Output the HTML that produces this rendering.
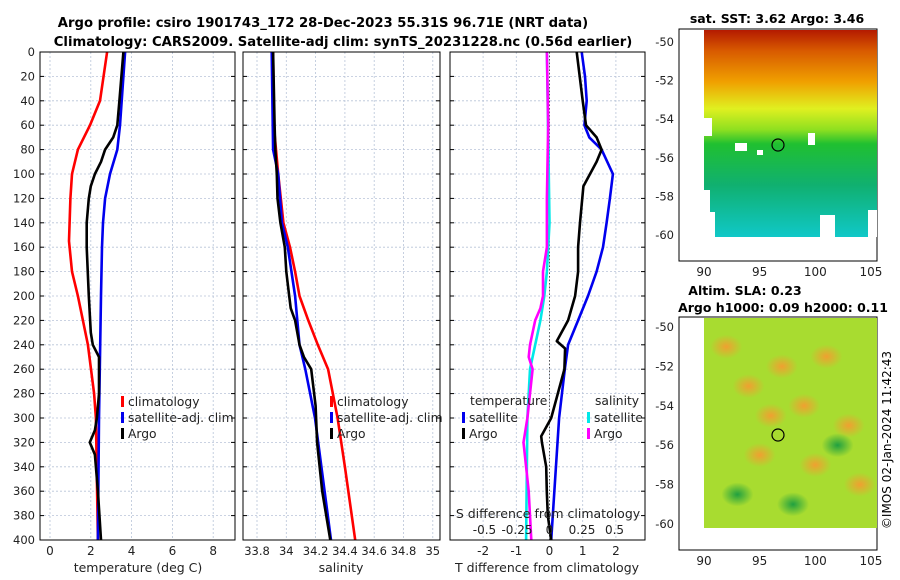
<!DOCTYPE html>
<html><head><meta charset="utf-8"><style>
body{margin:0;background:#fff}
svg{display:block;font-family:"DejaVu Sans","Liberation Sans",sans-serif}
</style></head><body>
<svg id="c" width="900" height="580" viewBox="0 0 900 580">
<defs>
<linearGradient id="sst" x1="0" y1="0" x2="0" y2="1">
<stop offset="0" stop-color="#b41a00"/><stop offset="0.1" stop-color="#d85a00"/><stop offset="0.25" stop-color="#f0a000"/>
<stop offset="0.38" stop-color="#e0f020"/><stop offset="0.48" stop-color="#90e020"/><stop offset="0.55" stop-color="#20c030"/>
<stop offset="0.75" stop-color="#10b070"/><stop offset="1" stop-color="#10c8c8"/></linearGradient>
<radialGradient id="blob"><stop offset="0" stop-color="#f0a030"/><stop offset="1" stop-color="#f0a030" stop-opacity="0"/></radialGradient>
<radialGradient id="gblob"><stop offset="0" stop-color="#20a040"/><stop offset="1" stop-color="#20a040" stop-opacity="0"/></radialGradient>
</defs>
<text x="323" y="27" text-anchor="middle" font-size="13.2" font-weight="bold">Argo profile: csiro 1901743_172 28-Dec-2023 55.31S 96.71E (NRT data)</text>
<text x="343" y="46" text-anchor="middle" font-size="13.2" font-weight="bold">Climatology: CARS2009. Satellite-adj clim: synTS_20231228.nc (0.56d earlier)</text>
<g id="plots"></g>
<g>
<text x="777" y="23" text-anchor="middle" font-size="12.5" font-weight="bold">sat. SST: 3.62 Argo: 3.46</text>
<rect x="679" y="29" width="198" height="232" fill="#fff" stroke="#000"/>
<rect x="704" y="30" width="173" height="207" fill="url(#sst)"/>
<g fill="#fff">
<rect x="704" y="118" width="8" height="18"/><rect x="704" y="190" width="6" height="47"/><rect x="710" y="212" width="5" height="25"/>
<rect x="735" y="143" width="12" height="8"/><rect x="808" y="133" width="7" height="12"/><rect x="820" y="215" width="15" height="22"/>
<rect x="757" y="150" width="6" height="5"/><rect x="868" y="210" width="9" height="27"/>
</g>
<circle cx="778" cy="145" r="6" fill="none" stroke="#000" stroke-width="1.2"/>
</g>
<g>
<text x="745" y="295" text-anchor="middle" font-size="12.5" font-weight="bold">Altim. SLA: 0.23</text>
<text x="783" y="312" text-anchor="middle" font-size="12.5" font-weight="bold">Argo h1000: 0.09 h2000: 0.11</text>
<rect x="679" y="317" width="198" height="233" fill="#fff" stroke="#000"/>
<rect x="704" y="318" width="173" height="210" fill="#a8dc30"/>
<g id="blobs"></g>
<circle cx="778" cy="435" r="6" fill="none" stroke="#000" stroke-width="1.2"/>
</g>
<text transform="translate(891,440) rotate(-90)" text-anchor="middle" font-size="12">©IMOS 02-Jan-2024 11:42:43</text>
</svg>
<script>
const NS='http://www.w3.org/2000/svg';
function mk(t,a,p){const e=document.createElementNS(NS,t);for(const k in a)e.setAttribute(k,a[k]);(p||document.getElementById('plots')).appendChild(e);return e;}
// ---- data ----
const depthTicks=[0,20,40,60,80,100,120,140,160,180,200,220,240,260,280,300,320,340,360,380,400];
const tempTicks=[0,2,4,6,8];
const salTicks=[33.8,34,34.2,34.4,34.6,34.8,35];
const salTickLabels=['33.8','34','34.2','34.4','34.6','34.8','35'];
const tdTicks=[-2,-1,0,1,2];
const sdTicks=[-0.5,-0.25,0,0.25,0.5];
const sdTickLabels=['-0.5','-0.25','0','0.25','0.5'];
const tArgoD=[0,20,40,60,70,80,90,100,110,120,140,160,200,230,240,250,280,300,310,320,330,360,400];
const tArgo=[3.6,3.5,3.4,3.3,3.1,2.7,2.5,2.2,2.0,1.9,1.8,1.8,1.9,2.0,2.1,2.4,2.4,2.3,2.2,1.95,2.2,2.35,2.5];
const tClimD=[0,40,60,80,100,120,155,180,200,240,280,300,400];
const tClim=[2.8,2.45,1.96,1.37,1.08,1.0,0.93,1.08,1.37,1.86,2.16,2.25,2.35];
const tSatD=[0,60,80,100,120,140,160,200,300,400];
const tSat=[3.68,3.43,3.3,2.94,2.7,2.6,2.55,2.5,2.4,2.35];
const sArgoD=[0,60,80,100,120,140,160,180,200,210,220,240,250,260,290,320,360,400];
const sArgo=[33.91,33.92,33.925,33.935,33.94,33.96,33.99,34.0,34.02,34.03,34.06,34.09,34.12,34.17,34.2,34.21,34.245,34.3];
const sClimD=[0,60,100,140,160,180,200,220,240,260,300,340,400];
const sClim=[33.91,33.915,33.945,33.98,34.025,34.06,34.09,34.15,34.215,34.285,34.35,34.4,34.47];
const sSatD=[0,80,100,140,160,200,240,260,300,400];
const sSat=[33.9,33.91,33.945,33.97,34.01,34.06,34.09,34.13,34.196,34.305];
const dtSatD=[0,20,40,60,70,80,100,120,140,160,180,200,220,240,260,300,400];
const dtSat=[0.97,1.07,1.12,1.05,1.2,1.57,1.91,1.82,1.72,1.61,1.42,1.16,0.86,0.56,0.46,0.29,0.05];
const dtArgoD=[0,40,60,70,80,90,100,110,140,160,180,200,220,237,243,260,280,300,315,320,340,360,380,400];
const dtArgo=[0.82,1.0,1.1,1.42,1.57,1.42,1.22,1.02,0.92,0.86,0.86,0.77,0.56,0.22,0.47,0.45,0.25,0.05,-0.25,-0.23,-0.1,-0.08,-0.05,0.05];
const dsArgoD=[0,60,120,160,180,200,210,220,240,250,260,280,300,320,360,400];
const dsArgo=[-0.02,-0.01,-0.02,-0.02,-0.05,-0.05,-0.07,-0.11,-0.15,-0.16,-0.13,-0.15,-0.17,-0.2,-0.16,-0.14];
const dsSatD=[0,140,180,200,220,240,260,300,400];
const dsSat=[-0.02,0,-0.02,-0.04,-0.07,-0.11,-0.15,-0.17,-0.18];
// ---- axes ----
const Y=d=>52+d*1.22;
const panels=[
 {x0:40,x1:235,fx:v=>50+v*20.4,name:'temperature'},
 {x0:243,x1:440,fx:v=>257+(v-33.8)*146.5,name:'salinity'},
 {x0:450,x1:645,fx:v=>549.5+v*33.2,name:'t-difference'}];
const fs=v=>549.5+v*130;
function grid(p,xs){
 depthTicks.forEach(d=>{const l=mk('line',{x1:p.x0,x2:p.x1,y1:Y(d),y2:Y(d),stroke:'#b8c4d8','stroke-dasharray':'2,2','stroke-width':0.8});});
 xs.forEach(x=>{const l=mk('line',{x1:x,x2:x,y1:52,y2:540,stroke:'#b8c4d8','stroke-dasharray':'2,2','stroke-width':0.8});});
}
grid(panels[0],tempTicks.map(panels[0].fx));
grid(panels[1],salTicks.map(panels[1].fx));
grid(panels[2],tdTicks.map(panels[2].fx));
const z=mk('line',{x1:549.5,x2:549.5,y1:52,y2:540,stroke:'#555','stroke-dasharray':'1.5,2','stroke-width':1});

function series(fx,D,V,col,name){
 const pts=D.map((d,i)=>fx(V[i]).toFixed(1)+','+Y(d).toFixed(1)).join(' ');
 const e=mk('polyline',{points:pts,fill:'none',stroke:col,'stroke-width':2.6,'stroke-linejoin':'round'});
 
}
series(panels[0].fx,tClimD,tClim,'#ff0000','temp-climatology-line');
series(panels[0].fx,tSatD,tSat,'#0000ee','temp-satellite-line');
series(panels[0].fx,tArgoD,tArgo,'#000','temp-argo-line');
series(panels[1].fx,sClimD,sClim,'#ff0000','sal-climatology-line');
series(panels[1].fx,sSatD,sSat,'#0000ee','sal-satellite-line');
series(panels[1].fx,sArgoD,sArgo,'#000','sal-argo-line');
series(fs,dsSatD,dsSat,'#00e8e8','sdiff-satellite-line');
series(fs,dsArgoD,dsArgo,'#ff00ff','sdiff-argo-line');
series(panels[2].fx,dtSatD,dtSat,'#0000ee','tdiff-satellite-line');
series(panels[2].fx,dtArgoD,dtArgo,'#000','tdiff-argo-line');
panels.forEach(p=>{const r=mk('rect',{x:p.x0,y:52,width:p.x1-p.x0,height:488,fill:'none',stroke:'#000'});});
function txt(x,y,s,anchor,size,name,col){const t=mk('text',{x:x,y:y,'text-anchor':anchor||'middle','font-size':size||12,fill:col||'#222'});t.textContent=s;return t;}
depthTicks.forEach(d=>{txt(35,Y(d)+4,String(d),'end',11.5,'depth-tick-label');
 panels.forEach(p=>{const a=mk('line',{x1:p.x0,x2:p.x0+4,y1:Y(d),y2:Y(d),stroke:'#000'});const b=mk('line',{x1:p.x1-4,x2:p.x1,y1:Y(d),y2:Y(d),stroke:'#000'});});});
tempTicks.forEach(v=>txt(panels[0].fx(v),555,String(v),'middle',12,'temp-tick-label'));
salTicks.forEach((v,i)=>txt(panels[1].fx(v),555,salTickLabels[i],'middle',11.5,'sal-tick-label'));
tdTicks.forEach(v=>txt(panels[2].fx(v),555,String(v),'middle',12,'tdiff-tick-label'));
sdTicks.forEach((v,i)=>txt(fs(v),534,sdTickLabels[i],'middle',12,'sdiff-tick-label'));
txt(138,572,'temperature (deg C)','middle',12.5,'temp-axis-title');
txt(341,572,'salinity','middle',12.5,'sal-axis-title');
txt(547,572,'T difference from climatology','middle',12.5,'tdiff-axis-title');
txt(548,518,'S difference from climatology','middle',12.5,'sdiff-axis-title');
function leg(x,y,col,s,name){const r=mk('rect',{x:x,y:y-9,width:3,height:11,fill:col});txt(x+7,y+1,s,'start',12.3,name,'#222');}
leg(121,405,'#ff0000','climatology','legend-climatology');
leg(121,421,'#0000ee','satellite-adj. clim','legend-satellite');
leg(121,437,'#000','Argo','legend-argo');
leg(330,405,'#ff0000','climatology','legend2-climatology');
leg(330,421,'#0000ee','satellite-adj. clim','legend2-satellite');
leg(330,437,'#000','Argo','legend2-argo');
txt(470,405,'temperature','start',12.3,'legend-temperature-header');
txt(595,405,'salinity','start',12.3,'legend-salinity-header');
leg(462,421,'#0000ee','satellite','legend-t-satellite');
leg(462,437,'#000','Argo','legend-t-argo');
leg(587,421,'#00e8e8','satellite','legend-s-satellite');
leg(587,437,'#ff00ff','Argo','legend-s-argo');
const latTicks=[-50,-52,-54,-56,-58,-60];
const lonTicks=[90,95,100,105];
const mapDefs=[{yl:v=>42+(-50-v)*19.3,bot:261,name:'sst'},{yl:v=>327+(-50-v)*19.7,bot:550,name:'sla'}];
const lx=v=>704+(v-90)*11.13;
mapDefs.forEach(m=>{latTicks.forEach(v=>{txt(674,m.yl(v)+4,String(v),'end',11.5,m.name+'-lat-label');const t=mk('line',{x1:873,x2:877,y1:m.yl(v),y2:m.yl(v),stroke:'#000'});});
 lonTicks.forEach(v=>txt(lx(v),m.bot+15,String(v),'middle',12,m.name+'-lon-label'));});
const blobX=[92,94,97,99,101,103,95,100,104,93,98,102,96];
const blobY=[-51,-53,-52,-54,-51.5,-55,-56.5,-57,-58,-58.5,-59,-56,-54.5];
const blobK=['o','o','o','o','o','o','o','o','o','g','g','g','o'];
const bg=document.getElementById('blobs');
blobX.forEach((v,i)=>{const e=mk('ellipse',{cx:lx(v),cy:mapDefs[1].yl(blobY[i]),rx:16,ry:12,fill:blobK[i]==='o'?'url(#blob)':'url(#gblob)'},bg);});
</script>
</body></html>
